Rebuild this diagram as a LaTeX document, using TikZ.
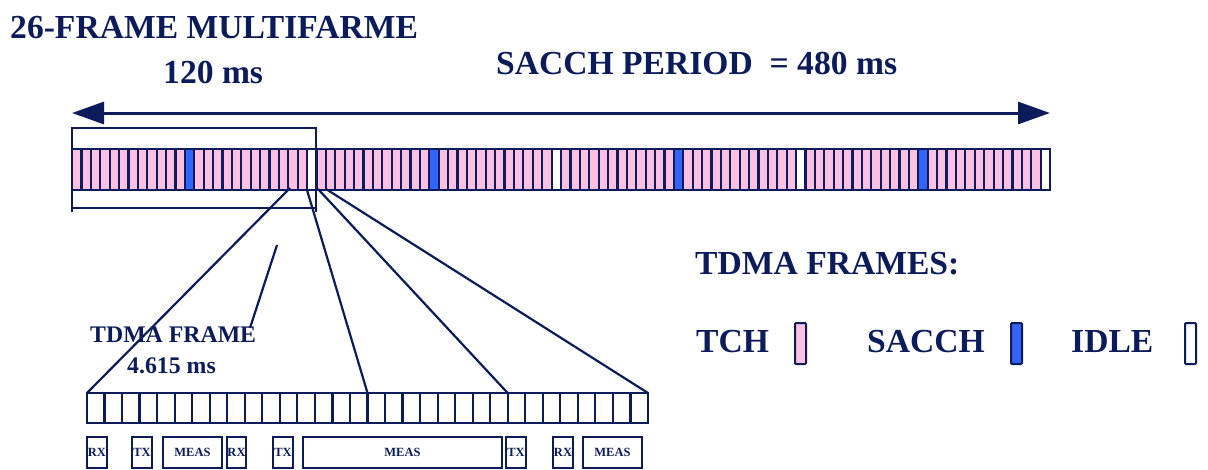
\documentclass[tikz,border=0pt]{standalone}
\usepackage{fontspec}
\setmainfont{Liberation Serif}
\usetikzlibrary{arrows.meta}
\definecolor{navy}{RGB}{12,28,90}
\definecolor{tch}{RGB}{252,192,226}
\definecolor{sacch}{RGB}{50,100,250}
\tikzset{
  big/.style={font=\bfseries\fontsize{33.6}{36}\selectfont, text=navy, anchor=base west, inner sep=0pt},
  mid/.style={font=\bfseries\fontsize{23.8}{26}\selectfont, text=navy, anchor=base west, inner sep=0pt},
  tiny/.style={font=\bfseries\fontsize{12.5}{13}\selectfont, text=navy, inner sep=0pt},
  line/.style={draw=navy, line width=2.2pt},
  cell/.style={draw=navy, line width=2.2pt},
  slot/.style={draw=navy, line width=2.2pt, fill=white},
  lab/.style={draw=navy, line width=2.2pt, fill=white}
}
\begin{document}
\begin{tikzpicture}[x=1pt,y=-1pt]
\useasboundingbox[fill=white] (0,0) rectangle (1208,469);
% titles
\node[big] (t1) at (10,38) {26-FRAME MULTIFARME};
\node[big] (t2) at (163,83) {120 ms};
\node[big] (t3) at (496,74) {SACCH PERIOD\ \ = 480 ms};
% big arrow
\coordinate (aL) at (72,113);
\coordinate (aR) at (1050,113);
\draw[navy, line width=3pt, {Triangle[length=32pt,width=22pt]}-{Triangle[length=32pt,width=22pt]}] (aL) -- (aR);
% multiframe bracket
\coordinate (bTL) at (72,128);
\coordinate (bTR) at (316,128);
\coordinate (bBL) at (72,212);
\coordinate (bBR) at (316,212);
\draw[line] (bBL) -- (bTL) -- (bTR) -- (bBR);
\draw[line] (72,208) -- (316,208);
% frames bar
\foreach \i in {0,...,103}{
  \pgfmathsetmacro\xa{72+\i*9.404}
  \pgfmathsetmacro\xb{72+(\i+1)*9.404}
  \pgfmathtruncatemacro\m{mod(\i,26)}
  \ifnum\m=12
    \draw[cell, fill=sacch] (\xa,149) rectangle (\xb,190);
  \else\ifnum\m=25
    \draw[cell, fill=white] (\xa,149) rectangle (\xb,190);
  \else
    \draw[cell, fill=tch] (\xa,149) rectangle (\xb,190);
  \fi\fi
}
% TDMA frame slots
\foreach \j in {0,...,31}{
  \pgfmathsetmacro\xa{87+\j*17.53}
  \pgfmathsetmacro\xb{87+(\j+1)*17.53}
  \draw[slot] (\xa,393) rectangle (\xb,423);
}
% fan lines
\coordinate (f1) at (290,188);
\coordinate (f2) at (307,190);
\coordinate (f3) at (318,189);
\coordinate (f4) at (326,189);
\coordinate (g1) at (87,393);
\coordinate (g2) at (367.5,393);
\coordinate (g3) at (507.7,393);
\coordinate (g4) at (648,393);
\draw[line] (f1) -- (g1);
\draw[line] (f2) -- (g2);
\draw[line] (f3) -- (g3);
\draw[line] (f4) -- (g4);
% TDMA frame label
\node[mid] (tf) at (90,342) {TDMA FRAME};
\node[mid] (tfm) at (127,373) {4.615 ms};
\coordinate (p1) at (250,328);
\coordinate (p2) at (277,245);
\draw[line] (p1) -- (p2);
% bottom labels
\foreach \a/\b/\t in {87/107/RX, 132/152/TX, 163/222/MEAS, 227/246/RX, 273/293/TX, 303/502/MEAS, 506/526/TX, 553/573/RX, 583/642/MEAS}{
  \draw[lab] (\a,437) rectangle (\b,468);
  \node[tiny, anchor=base] at ({(\a+\b)/2},456) {\t};
}
% legend
\node[big] (lg) at (695,274) {TDMA FRAMES:};
\node[big] (l1) at (696,352) {TCH};
\node[big] (l2) at (867,352) {SACCH};
\node[big] (l3) at (1071,352) {IDLE};
\draw[navy, line width=2pt, fill=tch, rounded corners=1pt] (795,323) rectangle (806,364);
\draw[navy, line width=2pt, fill=sacch, rounded corners=1pt] (1011,323) rectangle (1022,364);
\draw[navy, line width=2pt, fill=white, rounded corners=1pt] (1185,323) rectangle (1196,364);
\end{tikzpicture}
\end{document}
